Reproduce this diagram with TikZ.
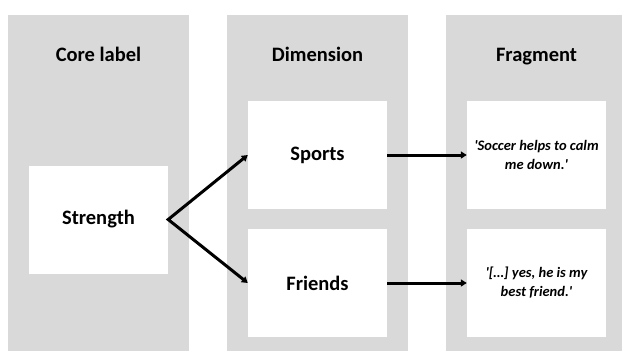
\documentclass[tikz,border=0pt]{standalone}
\usepackage{fontspec}
\setmainfont{Carlito}
\usetikzlibrary{arrows.meta}
\definecolor{panelgray}{HTML}{D9D9D9}
\begin{document}
\begin{tikzpicture}[x=1pt, y=-1pt,
    panel/.style={fill=panelgray, draw=none},
    header/.style={anchor=base, font=\fontsize{20.5}{24}\selectfont\bfseries},
    labelbox/.style={fill=white, minimum width=139pt, minimum height=108pt, inner sep=0pt,
                     font=\fontsize{20.5}{24}\selectfont\bfseries},
    quotebox/.style={fill=white, minimum width=139pt, minimum height=108pt, inner sep=0pt,
                     align=center, font=\fontsize{14.5}{19}\selectfont\bfseries\itshape},
    link/.style={line width=3pt, -{Triangle[length=6pt, width=7pt]}}]
    \useasboundingbox (0,0) rectangle (622,351);
    \fill[white] (0,0) rectangle (622,351);

    % panels
    \foreach \x in {8,227,446} {
        \fill[panel] (\x,15) rectangle (\x+181,351);
    }

    \node[header] (hcore) at (98.5,61) {Core label};
    \node[header] (hdim) at (317.5,61) {Dimension};
    \node[header] (hfrag) at (536.5,61) {Fragment};

    \node[labelbox] (strength) at (98.5,219.5) {Strength};
    \node[labelbox] (sports) at (317.5,155) {Sports};
    \node[labelbox] (friends) at (317.5,283) {Friends};
    \node[quotebox] (quoteA) at (536.5,155) {\textquotesingle Soccer helps to calm\\me down.\textquotesingle};
    \node[quotebox] (quoteB) at (536.5,283) {\textquotesingle[\dots] yes, he is my\\best friend.\textquotesingle};

    \draw[link, {Triangle[length=6pt, width=7pt]}-{Triangle[length=6pt, width=7pt]}, line join=miter]
        (sports.west) -- (strength.east) -- (friends.west);
    \draw[link] (sports.east) -- (quoteA.west);
    \draw[link] (friends.east) -- (quoteB.west);
\end{tikzpicture}
\end{document}
